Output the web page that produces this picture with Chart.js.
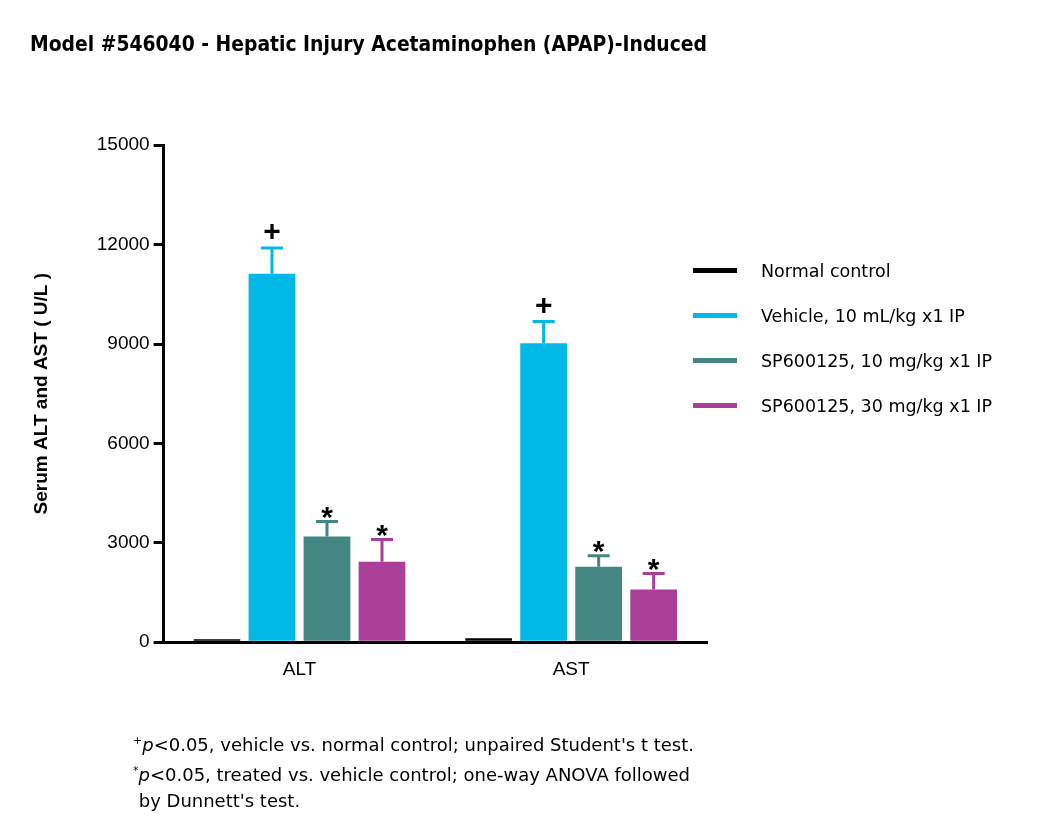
<!DOCTYPE html>
<html>
<head>
<meta charset="utf-8">
<script src="https://cdn.jsdelivr.net/npm/chart.js@4"></script>
<style>
  body { margin: 0; background: #fff; font-family: "DejaVu Sans", sans-serif; }
  #wrap { position: relative; width: 1050px; height: 837px; }
  #legend { position: absolute; left: 693px; top: 248px; font-size: 17.5px; }
  #legend div { height: 45px; display: flex; align-items: center; }
  #legend span.sw { display: inline-block; width: 44px; height: 5px; margin-right: 24px; }
  #note { position: absolute; left: 133px; top: 728px; font-size: 18px; line-height: 26px; }
  sup { font-size: 11px; }
</style>
</head>
<body>
<div id="wrap">
  <canvas id="chart" width="1050" height="837"></canvas>
  <div id="legend"></div>
  <div id="note">
    <sup>+</sup><i>p</i>&lt;0.05, vehicle vs. normal control; unpaired Student's t test.<br>
    <sup>*</sup><i>p</i>&lt;0.05, treated vs. vehicle control; one-way ANOVA followed<br>
    &nbsp;by Dunnett's test.
  </div>
</div>
<script>
// Valeurs (moyenne, erreur haute, marque)
const groupes = [
    { label: 'Normal control', color: '#000000', data: [90, 120], err: [0, 0], mark: ['', ''] },
    { label: 'Vehicle, 10 mL/kg x1 IP', color: '#00b9e6', data: [11120, 9020], err: [780, 660], mark: ['+', '+'] },
    { label: 'SP600125, 10 mg/kg x1 IP', color: '#438682', data: [3190, 2280], err: [450, 330], mark: ['*', '*'] },
    { label: 'SP600125, 30 mg/kg x1 IP', color: '#aa3f98', data: [2430, 1590], err: [670, 480], mark: ['*', '*'] }
];

document.getElementById('legend').innerHTML = groupes.map(g =>
    '<div><span class="sw" style="background:' + g.color + '"></span>' + g.label + '</div>').join('');

const font = "'Liberation Sans', Arial, sans-serif";

const errorBars = {
    id: 'errorBars',
    afterDatasetsDraw(chart) {
        const ctx = chart.ctx;
        const y = chart.scales.y;
        chart.data.datasets.forEach((ds, i) => {
            const meta = chart.getDatasetMeta(i);
            meta.data.forEach((bar, j) => {
                const e = groupes[i].err[j];
                const top = y.getPixelForValue(ds.data[j] + e);
                ctx.save();
                if (e > 0) {
                    ctx.strokeStyle = ds.backgroundColor;
                    ctx.lineWidth = 3;
                    ctx.beginPath();
                    ctx.moveTo(bar.x, bar.y);
                    ctx.lineTo(bar.x, top);
                    ctx.moveTo(bar.x - 11, top);
                    ctx.lineTo(bar.x + 11, top);
                    ctx.stroke();
                }
                const m = groupes[i].mark[j];
                if (m) {
                    ctx.fillStyle = '#000';
                    ctx.font = 'bold 30px ' + font;
                    ctx.textAlign = 'center';
                    ctx.textBaseline = 'bottom';
                    ctx.fillText(m, bar.x, top + (m === '*' ? 12 : 0));
                }
                ctx.restore();
            });
        });
    }
};

const ctx = document.getElementById('chart').getContext('2d');
new Chart(ctx, {
    type: 'bar',
    data: {
        labels: ['ALT', 'AST'],
        datasets: groupes.map(g => ({
            label: g.label,
            data: g.data,
            backgroundColor: g.color,
            categoryPercentage: 0.81,
            barPercentage: 0.85
        }))
    },
    options: {
        responsive: false,
        animation: false,
        layout: { padding: { left: 30, right: 343, top: 0, bottom: 140 } },
        plugins: {
            legend: { display: false },
            tooltip: { enabled: false },
            title: {
                display: true,
                text: 'Model #546040 - Hepatic Injury Acetaminophen (APAP)-Induced',
                align: 'start',
                color: '#000',
                font: { family: "'DejaVu Sans', sans-serif", size: 21, weight: 'bold' },
                padding: { top: 33, bottom: 87 }
            }
        },
        scales: {
            x: {
                grid: { display: true, drawOnChartArea: false, drawTicks: false },
                border: { color: '#000', width: 3 },
                ticks: { color: '#000', font: { family: font, size: 19 }, padding: 16 }
            },
            y: {
                min: 0, max: 15000,
                grid: { display: true, drawOnChartArea: false, drawTicks: true, tickLength: 10, lineWidth: 3, color: '#000' },
                border: { color: '#000', width: 3 },
                ticks: {
                    stepSize: 3000, color: '#000', font: { family: font, size: 19 }, padding: 4,
                    callback: v => String(v)
                },
                title: {
                    display: true,
                    text: 'Serum ALT and AST ( U/L )',
                    color: '#000',
                    font: { family: font, size: 19, weight: 'bold' },
                    padding: { top: 0, bottom: 40 }
                }
            }
        }
    },
    plugins: [errorBars]
});
</script>
</body>
</html>
